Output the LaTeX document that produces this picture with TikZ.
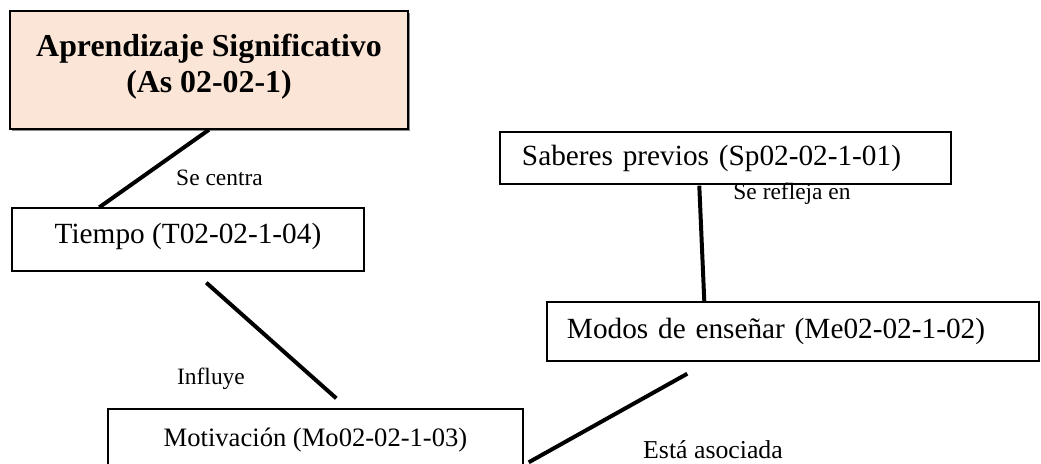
\documentclass[tikz,border=0pt]{standalone}
\usepackage{fontspec}
\setmainfont{Liberation Serif}
\usetikzlibrary{positioning, calc, shadows}

\definecolor{peach}{HTML}{FBE5D6}

\begin{document}
\begin{tikzpicture}[
		x=0.015cm, y=-0.015cm,
		concept/.style={draw, rectangle, line width=0.6pt, inner sep=0pt, font=\fontsize{12.5}{15}\selectfont},
		link/.style={line width=1.7pt},
		tag/.style={inner sep=0pt, font=\fontsize{10}{12}\selectfont}
		]
		\useasboundingbox (0,0) rectangle (1041,463);
		
		% Main concept
		\node (as) [concept, fill=peach, align=center, minimum width=5.97cm, minimum height=1.77cm,
			text depth=0.2cm, font=\fontsize{13.6}{15}\selectfont\bfseries,
			drop shadow={fill=black!45, opacity=1, shadow xshift=0.7pt, shadow yshift=-0.7pt}]
			at (209,70) {Aprendizaje Significativo\\(As 02-02-1)};
		
		% Time
		\node (tiempo) [concept, minimum width=5.28cm, minimum height=0.945cm, text depth=5.2pt]
			at (188,239.5) {Tiempo (T02-02-1-04)};
		
		% Prior knowledge
		\node (saberes) [concept, minimum width=6.765cm, minimum height=0.78cm,
			inner xsep=0.33cm, text width=6.105cm, align=left]
			at (725.5,158) {Saberes previos (Sp02-02-1-01)};
		
		% Teaching
		\node (modos) [concept, minimum width=7.38cm, minimum height=0.885cm,
			inner xsep=0.3cm, text width=6.78cm, align=left]
			at (793,331.5) {Modos de enseñar (Me02-02-1-02)};
		
		% Motivation
		\node (motiv) [concept, minimum width=6.225cm, minimum height=0.945cm,
			font=\fontsize{11.35}{13}\selectfont]
			at (315.5,440.5) {Motivación (Mo02-02-1-03)};
		
		% Labels
		\node (centra) [tag] at (219.5,178) {Se centra};
		\node (influye) [tag] at (211,379) {Influye};
		\node (refleja) [tag] at (792,194) {Se refleja en};
		\node (asociada) [tag, font=\fontsize{11}{13}\selectfont] at (713,450) {Está asociada};
		
		% Links
		\draw[link] (as.south) -- ($(tiempo.north west)+(88,0)$);
		\draw[link] ($(tiempo.south west)+(195,11)$) -- ($(motiv.north west)+(229,-10)$);
		\draw[link] ($(saberes.south west)+(200,1)$) -- ($(modos.north west)+(158,0)$);
		\draw[link] ($(motiv.north east)+(5,54)$) -- ($(modos.south west)+(141,12)$);
		
	\end{tikzpicture}
\end{document}
